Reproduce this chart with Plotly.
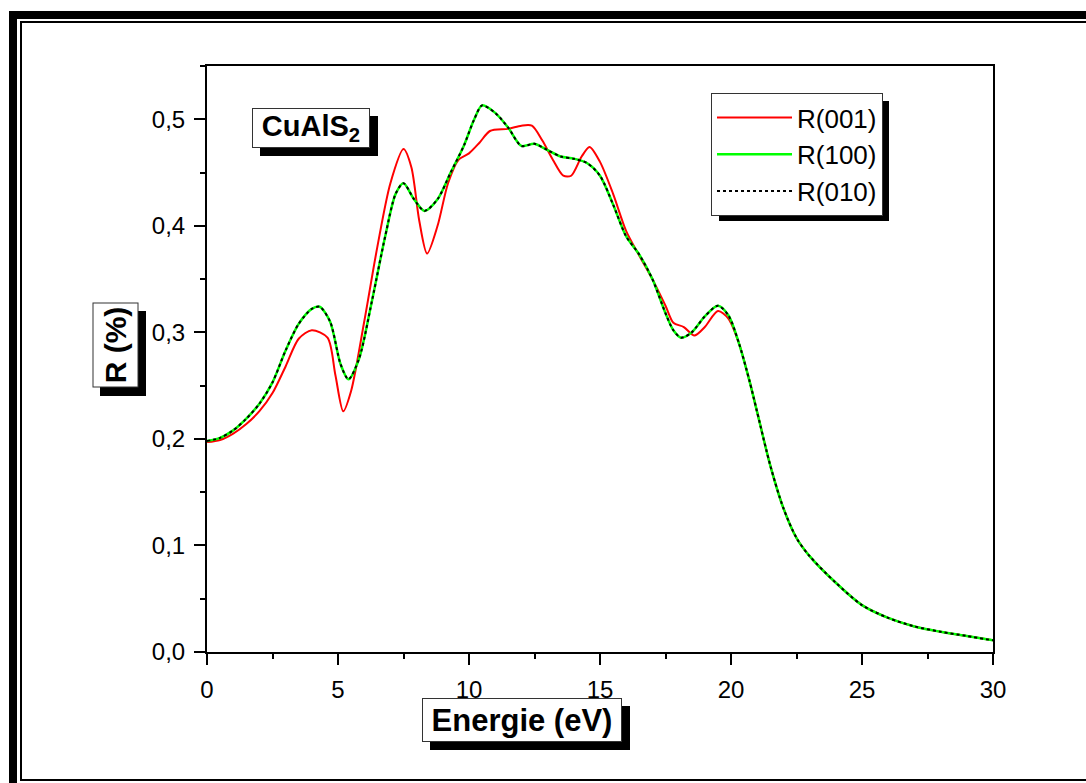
import plotly.graph_objects as go

# ---- data ----
energy_001 = [0, 0.5, 1, 1.5, 2, 2.5, 3, 3.5, 4, 4.6, 4.9, 5.2, 5.5, 6, 6.5, 7, 7.5, 7.8, 8.1, 8.4,
              8.8, 9.2, 9.6, 10, 10.4, 10.8, 11.5, 12, 12.4, 12.8, 13.2, 13.6, 13.9, 14.3, 14.6, 15,
              15.5, 16, 16.5, 17, 17.5, 17.8, 18.2, 18.6, 19, 19.5, 19.9, 20.3, 20.7, 21, 21.5, 22,
              22.5, 23, 24, 25, 26, 27, 28, 29, 30]
r_001 = [0.197, 0.199, 0.205, 0.214, 0.226, 0.243, 0.268, 0.294, 0.302, 0.295, 0.26, 0.226, 0.245,
         0.31, 0.38, 0.44, 0.472, 0.455, 0.405, 0.374, 0.40, 0.44, 0.462, 0.468, 0.478, 0.489, 0.491,
         0.494, 0.494, 0.48, 0.462, 0.447, 0.447, 0.465, 0.474, 0.46, 0.43, 0.395, 0.372, 0.35, 0.325,
         0.309, 0.305, 0.297, 0.305, 0.32, 0.313, 0.29, 0.255, 0.225, 0.175, 0.135, 0.107, 0.09,
         0.065, 0.044, 0.032, 0.024, 0.019, 0.015, 0.011]

energy_100 = [0, 0.5, 1, 1.5, 2, 2.5, 3, 3.5, 4, 4.3, 4.7, 5.1, 5.4, 5.8, 6.3, 6.8, 7.2, 7.5, 7.9, 8.3,
              8.8, 9.3, 9.8, 10.2, 10.5, 11, 11.5, 12, 12.5, 13, 13.5, 14, 14.5, 15, 15.5, 16, 16.5,
              17, 17.5, 17.8, 18.1, 18.5, 19, 19.5, 19.9, 20.3, 20.7, 21, 21.5, 22, 22.5, 23, 24, 25,
              26, 27, 28, 29, 30]
r_100 = [0.198, 0.201, 0.208, 0.219, 0.233, 0.253, 0.283, 0.308, 0.322, 0.324, 0.31, 0.27, 0.256,
         0.275, 0.33, 0.39, 0.43, 0.44, 0.425, 0.414, 0.425, 0.45, 0.475, 0.5, 0.513, 0.506, 0.492,
         0.475, 0.477, 0.471, 0.465, 0.463, 0.459, 0.447, 0.42, 0.39, 0.373, 0.35, 0.318, 0.302,
         0.295, 0.3, 0.315, 0.325, 0.316, 0.29, 0.255, 0.225, 0.175, 0.135, 0.107, 0.09, 0.065,
         0.044, 0.032, 0.024, 0.019, 0.015, 0.011]

energy_010 = energy_100
r_010 = r_100

series_names = ["R(001)", "R(100)", "R(010)"]
x_ticks = [0, 5, 10, 15, 20, 25, 30]
y_ticks = [0.0, 0.1, 0.2, 0.3, 0.4, 0.5]

# ---- figure ----
W, H = 1086, 783
L, R, T, B = 207, 93, 66, 131
PW, PH = W - L - R, H - T - B


def px(xp):
    return (xp - L) / PW


def py(yp):
    return (H - B - yp) / PH


fig = go.Figure()
fig.add_trace(go.Scatter(x=energy_001, y=r_001, name=series_names[0], mode="lines",
                         line=dict(color="#ff0000", width=2, shape="spline", smoothing=0.8)))
fig.add_trace(go.Scatter(x=energy_100, y=r_100, name=series_names[1], mode="lines",
                         line=dict(color="#00ff00", width=2.5, shape="spline", smoothing=0.8)))
fig.add_trace(go.Scatter(x=energy_010, y=r_010, name=series_names[2], mode="lines",
                         line=dict(color="#000000", width=2, dash="dot", shape="spline", smoothing=0.8)))

font_family = "Arial, Liberation Sans, sans-serif"

axis_common = dict(showline=True, linecolor="black", linewidth=2, mirror=True,
                   ticks="outside", ticklen=11, tickwidth=2, tickcolor="black",
                   showgrid=False, zeroline=False,
                   tickfont=dict(family=font_family, size=24, color="black"))

fig.update_xaxes(range=[0, 30], tickvals=x_ticks, ticklabelstandoff=4,
                 minor=dict(ticks="outside", ticklen=5, tickwidth=2, tickcolor="black", dtick=2.5),
                 **axis_common)
fig.update_yaxes(range=[0, 0.55], tickvals=y_ticks, tickformat=".1f", ticklabelstandoff=4,
                 minor=dict(ticks="outside", ticklen=5, tickwidth=2, tickcolor="black", dtick=0.05),
                 **axis_common)

annotations = []
shapes = [
    # outer thick frame
    dict(type="rect", xref="paper", yref="paper", x0=px(13), x1=px(1110), y0=py(15), y1=py(810),
         line=dict(color="black", width=8), layer="below"),
    # inner thin frame
    dict(type="rect", xref="paper", yref="paper", x0=px(21), x1=px(1100), y0=py(22), y1=py(780),
         line=dict(color="black", width=2), layer="below"),
]

SH = 8  # shadow offset in pixels


def boxed(text, cx, cy, w, h, size, angle=0):
    tw, th = (h - 4, w - 4) if angle else (w - 4, h - 4)
    annotations.append(dict(text=text, xref="paper", yref="paper", x=px(cx), y=py(cy),
                            xanchor="center", yanchor="middle", showarrow=False, textangle=angle,
                            width=tw, height=th, borderpad=1, borderwidth=1,
                            font=dict(family=font_family, size=size, color="black"),
                            bgcolor="white", bordercolor="#333333"))
    shapes.append(dict(type="rect", xref="paper", yref="paper",
                       x0=px(cx - w / 2 + SH), x1=px(cx + w / 2 + SH),
                       y0=py(cy - h / 2 + SH), y1=py(cy + h / 2 + SH),
                       fillcolor="black", line=dict(width=0), layer="above"))


boxed("<b>CuAlS<sub>2</sub></b>", 311, 128, 118, 40, 29)
boxed("<b>Energie (eV)</b>", 522, 720, 200, 44, 31)
boxed("<b>R (%)</b>", 115, 345.5, 46, 85, 30, angle=-90)

# legend shadow (legend box approx. 711..881 x 93..213)
shapes.append(dict(type="rect", xref="paper", yref="paper", x0=px(711 + SH), x1=px(881 + SH),
                   y0=py(93 + SH), y1=py(213 + SH),
                   fillcolor="black", line=dict(width=0), layer="above"))

fig.update_layout(
    width=W, height=H,
    margin=dict(l=L, r=R, t=T, b=B),
    paper_bgcolor="white", plot_bgcolor="white",
    separators=",.",
    font=dict(family=font_family, color="black"),
    annotations=annotations,
    shapes=shapes,
    showlegend=True,
    legend=dict(x=px(711), y=py(93), xanchor="left", yanchor="top",
                bgcolor="white", bordercolor="#333333", borderwidth=1,
                font=dict(family=font_family, size=26, color="black"),
                itemwidth=75, tracegroupgap=0),
)

fig.write_html("out.html")
